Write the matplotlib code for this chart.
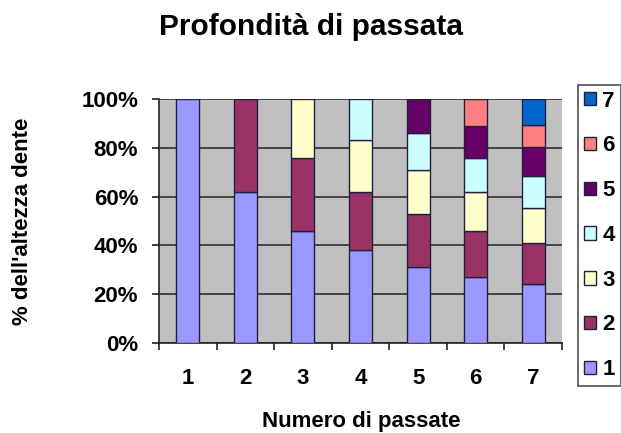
import numpy as np
import matplotlib
matplotlib.use("Agg")
import matplotlib.pyplot as plt

plt.rcParams['font.family'] = ['Liberation Sans', 'DejaVu Sans']
plt.rcParams['font.weight'] = 'bold'

passate = ['1', '2', '3', '4', '5', '6', '7']
serie = ['1', '2', '3', '4', '5', '6', '7']
colori = ['#9999FF', '#993366', '#FFFFCC', '#CCFFFF', '#660066', '#FF8080', '#0066CC']

# quota di ogni passata (%) per numero totale di passate
quote = [
    [100],
    [62, 38],
    [46, 30, 24],
    [38, 24, 21, 17],
    [31, 22, 18, 15, 14],
    [27, 19, 16, 14, 13, 11],
    [24, 17, 14.5, 13, 12, 9, 10.5],
]

fig = plt.figure(figsize=(6.21, 4.33), dpi=100)
ax = fig.add_axes([159/621, 1 - 343/433, (562 - 159)/621, (343 - 99)/433])
ax.set_facecolor('#C0C0C0')

x = np.arange(len(passate))
handles = []
for k in range(len(serie)):
    vals = np.array([q[k] if k < len(q) else 0 for q in quote])
    bottoms = np.array([sum(q[:k]) for q in quote])
    mask = vals > 0
    b = ax.bar(x[mask], vals[mask], bottom=bottoms[mask], width=0.4,
               color=colori[k], edgecolor='#202040', linewidth=1.0,
               label=serie[k], zorder=3)
    handles.append(b)

ax.set_xlim(-0.5, len(passate) - 0.5)
ax.set_ylim(0, 100)
ax.set_yticks(np.arange(0, 101, 20))
ax.set_yticklabels([f'{v}%' for v in range(0, 101, 20)], fontsize=16)
ax.set_xticks(x)
ax.set_xticklabels(passate, fontsize=16)
ax.set_xticks(np.arange(-0.5, len(passate)), minor=True)
ax.tick_params(axis='x', which='major', length=0, pad=18)
ax.tick_params(axis='x', which='minor', length=5, width=1.2, color='#222222', direction='out')
ax.tick_params(axis='y', length=5, width=1.2, color='#222222', direction='out', pad=10)

ax.yaxis.grid(True, color='#3a3a3a', linewidth=1.3, zorder=1)
ax.set_axisbelow(True)
for side in ['top', 'right']:
    ax.spines[side].set_visible(False)
for side in ['left', 'bottom']:
    ax.spines[side].set_color('#222222')
    ax.spines[side].set_linewidth(1.2)

fig.text(311/621, 1 - 35/433, 'Profondità di passata', fontsize=21.5,
         fontweight='bold', ha='center', va='baseline')
fig.text(361/621, 1 - 427/433, 'Numero di passate', fontsize=16,
         fontweight='bold', ha='center', va='baseline')
fig.text(23/621, 1 - 221/433, "% dell'altezza dente", fontsize=16,
         fontweight='bold', ha='center', va='center', rotation=90)

leg = fig.legend(handles[::-1], serie[::-1], loc='upper left',
                 bbox_to_anchor=(578/621, 1 - 85/433), fontsize=16,
                 frameon=True, fancybox=False, edgecolor='#222222',
                 labelspacing=1.07, handlelength=0.55, handleheight=0.55,
                 handletextpad=0.3, borderpad=0.25, borderaxespad=0)
leg.get_frame().set_linewidth(1.2)

fig.savefig('out.png', dpi=100)
